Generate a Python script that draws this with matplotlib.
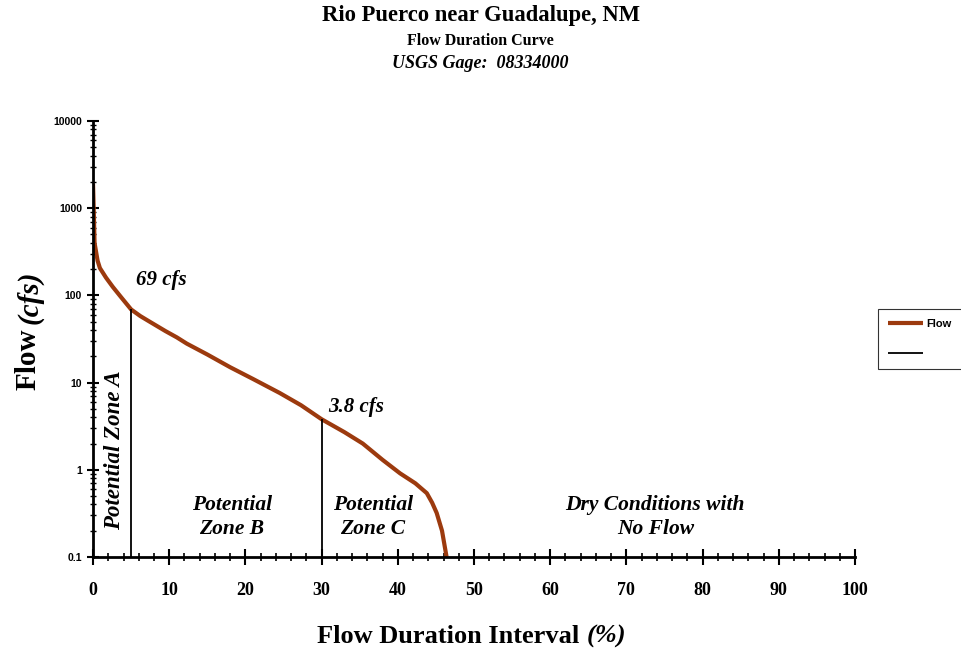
import matplotlib
matplotlib.use("Agg")
import matplotlib.pyplot as plt
from matplotlib.ticker import MultipleLocator, LogLocator, NullFormatter, FixedLocator

# flow duration curve
pct = [0.0, 0.1, 0.2, 0.6, 0.9, 1.7, 2.6, 3.7, 5.0, 6.2, 7.1, 9.5, 11.0, 12.3, 15.0,
       18.0, 21.0, 24.5, 27.3, 30.0, 33.0, 35.4, 38.0, 40.3, 42.3, 43.8, 44.5, 45.1,
       45.8, 46.4]
flow = [1900, 900, 400, 250, 206, 160, 125, 95, 69, 58, 52, 39, 33, 28, 21,
        15, 11, 7.6, 5.5, 3.8, 2.7, 2.0, 1.3, 0.91, 0.7, 0.54, 0.42, 0.32,
        0.2, 0.1]

zone_x = [5, 30]
zone_q = [69, 3.8]
zone_labels = ["69 cfs", "3.8 cfs"]

x_ticks = [0, 10, 20, 30, 40, 50, 60, 70, 80, 90, 100]
y_ticks = [0.1, 1, 10, 100, 1000, 10000]
y_labels = ["0.1", "1", "10", "100", "1000", "10000"]

brown = '#9c3a0e'
serif = 'Liberation Serif'

fig = plt.figure(figsize=(9.61, 6.58), dpi=100)
ax = fig.add_axes([0.0968, 0.1535, 0.7929, 0.6626])

ax.plot(pct, flow, color=brown, lw=3, solid_capstyle='butt', label='Flow')
ax.vlines(zone_x, 0.1, zone_q, color='black', lw=1.3, label=' ')

ax.set_yscale('log')
ax.set_xlim(0, 100)
ax.set_ylim(0.1, 10000)

for s in ['top', 'right']:
    ax.spines[s].set_visible(False)
for s in ['left', 'bottom']:
    ax.spines[s].set_linewidth(2)

ax.xaxis.set_major_locator(FixedLocator(x_ticks))
ax.xaxis.set_minor_locator(MultipleLocator(2))
ax.yaxis.set_major_locator(FixedLocator(y_ticks))
ax.yaxis.set_minor_locator(LogLocator(base=10, subs=range(2, 10), numticks=20))
ax.yaxis.set_minor_formatter(NullFormatter())
ax.set_yticklabels(y_labels, family='Liberation Sans', fontweight='bold', fontsize=7.5)
ax.set_xticklabels([str(t) for t in x_ticks], family=serif, fontweight='bold', fontsize=13)
ax.tick_params(axis='x', which='major', direction='inout', length=12, width=1.5, pad=12)
ax.tick_params(axis='x', which='minor', direction='inout', length=6, width=1.2)
ax.tick_params(axis='y', which='major', direction='inout', length=8, width=1.5, pad=4)
ax.tick_params(axis='y', which='minor', direction='inout', length=4, width=1)

# axis labels, italic units drawn as separate pieces
lab = dict(family=serif, fontweight='bold', fontsize=19)
fig.text(0.61, 0.032, "Flow Duration Interval ", ha='right', va='center', **lab)
fig.text(0.61, 0.032, "(%)", ha='left', va='center', style='italic', **lab)
ylab = dict(family=serif, fontweight='bold', fontsize=21)
fig.text(0.029, 0.407, "Flow", rotation=90, ha='center', va='bottom', **ylab)
fig.text(0.031, 0.508, "(cfs)", rotation=90, ha='center', va='bottom', style='italic', **ylab)

# zone annotations
note = dict(family=serif, style='italic', fontweight='bold')
ax.text(5.6, 150, zone_labels[0], fontsize=15, va='center', ha='left', **note)
ax.text(30.8, 5.2, zone_labels[1], fontsize=15, va='center', ha='left', **note)
ax.text(2.8, 1.7, "Potential Zone A", fontsize=16.5, rotation=90,
        va='center', ha='center', **note)
zone_kw = dict(fontsize=15.5, ha='center', va='center', linespacing=1.25, **note)
ax.text(18.2, 0.29, "Potential\nZone B", **zone_kw)
ax.text(36.7, 0.29, "Potential\nZone C", **zone_kw)
ax.text(73.8, 0.29, "Dry Conditions with\nNo Flow", **zone_kw)

# titles
fig.text(0.5, 0.977, "Rio Puerco near Guadalupe, NM", family=serif, fontweight='bold',
         fontsize=16.3, ha='center', va='center')
fig.text(0.5, 0.938, "Flow Duration Curve", family=serif, fontweight='bold',
         fontsize=11.5, ha='center', va='center')
fig.text(0.5, 0.904, "USGS Gage:  08334000", family=serif, fontweight='bold', style='italic',
         fontsize=13, ha='center', va='center')

leg = ax.legend(loc='center left', bbox_to_anchor=(1.03, 0.5), frameon=True, fancybox=False,
                prop={'family': 'Liberation Sans', 'weight': 'bold', 'size': 8},
                handlelength=3.2, borderpad=0.9, labelspacing=1.8, handletextpad=0.3,
                borderaxespad=0)
leg.get_frame().set_edgecolor('black')
leg.get_frame().set_linewidth(0.8)

fig.savefig("out.png", dpi=100)
